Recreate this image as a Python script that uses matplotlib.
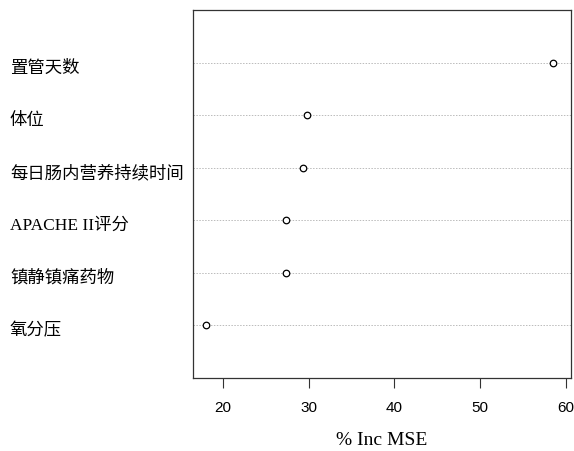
import matplotlib.pyplot as plt

# variable importance, bottom to top
names = ["氧分压", "镇静镇痛药物", "APACHE II评分", "每日肠内营养持续时间", "体位", "置管天数"]
inc_mse = [18.0, 27.35, 27.4, 29.35, 29.85, 58.5]
xticks = [20, 30, 40, 50, 60]

fig = plt.figure(figsize=(5.74, 4.52), dpi=100)
ax = fig.add_axes([193 / 574, 1 - 379 / 452, 378 / 574, 368 / 452])

ypos = list(range(1, len(names) + 1))
for y in ypos:
    ax.axhline(y, color="#bbbbbb", lw=0.7, ls=(0, (1.5, 1.5)), zorder=1)
ax.scatter(inc_mse, ypos, s=22, facecolors="white", edgecolors="black", linewidths=0.9, zorder=3)

ax.set_xlim(16.5, 60.6)
ax.set_ylim(0, 7)
ax.set_yticks([])
ax.set_xticks(xticks)
ax.set_xticklabels([str(t) for t in xticks], fontfamily="Liberation Sans", fontsize=11)
ax.tick_params(axis="x", direction="out", length=7, width=0.8, pad=9, colors="#333333", labelcolor="black")
for sp in ax.spines.values():
    sp.set_linewidth(0.9)
    sp.set_color("#333333")

# row labels at the left edge of the figure
for y, name in zip(ypos, names):
    ax.annotate(name, xy=(10 / 574, y), xycoords=("figure fraction", "data"),
                xytext=(0, -3.5), textcoords="offset points", fontsize=12.5,
                family=["Liberation Serif", "Noto Sans CJK SC"], va="center", ha="left")

ax.set_xlabel("% Inc MSE", fontfamily="Liberation Serif", fontsize=14, labelpad=12)

fig.savefig("out.png", dpi=100)
